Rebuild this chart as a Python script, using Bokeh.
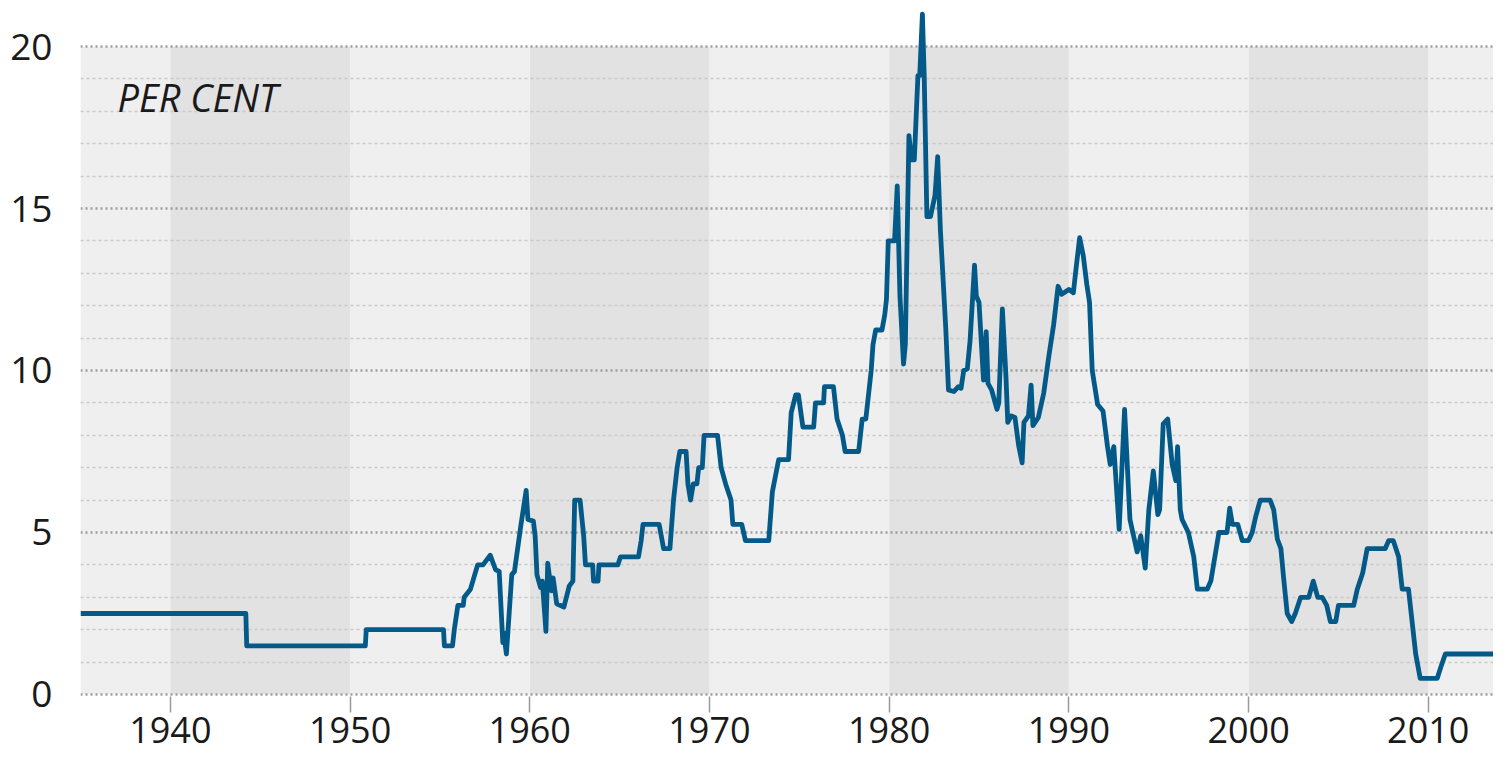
from bokeh.plotting import figure
from bokeh.models import FixedTicker, Label, Range1d
from bokeh.embed import file_html
from bokeh.resources import INLINE

# Bank rate, per cent
years = [
    1935.0, 1944.2, 1944.25, 1950.85, 1950.9, 1955.2, 1955.25, 1955.7, 1955.8, 1956.0,
    1956.3, 1956.35, 1956.7, 1957.1, 1957.4, 1957.8, 1958.1, 1958.3, 1958.5, 1958.55,
    1958.7, 1959.0, 1959.15, 1959.5, 1959.8, 1959.9, 1960.2, 1960.3, 1960.4, 1960.6,
    1960.7, 1960.9, 1961.0, 1961.2, 1961.3, 1961.5, 1961.9, 1962.2, 1962.4, 1962.5,
    1962.8, 1963.0, 1963.1, 1963.5, 1963.55, 1963.8, 1963.85, 1964.9, 1965.05, 1966.05,
    1966.2, 1966.3, 1967.2, 1967.45, 1967.8, 1968.0, 1968.2, 1968.35, 1968.7, 1968.8,
    1968.95, 1969.1, 1969.3, 1969.4, 1969.6, 1969.7, 1970.45, 1970.65, 1970.9, 1971.2,
    1971.3, 1971.8, 1972.0, 1973.3, 1973.5, 1973.85, 1974.4, 1974.55, 1974.8, 1974.95,
    1975.2, 1975.8, 1975.9, 1976.35, 1976.4, 1976.9, 1977.1, 1977.4, 1977.55, 1978.3,
    1978.5, 1978.7, 1978.8, 1979.0, 1979.1, 1979.25, 1979.6, 1979.75, 1979.85, 1979.95,
    1980.3, 1980.45, 1980.6, 1980.8, 1980.9, 1981.1, 1981.25, 1981.4, 1981.6, 1981.7,
    1981.85, 1981.95, 1982.1, 1982.3, 1982.55, 1982.7, 1982.85, 1983.15, 1983.3, 1983.6,
    1983.85, 1984.0, 1984.15, 1984.35, 1984.5, 1984.75, 1984.85, 1985.0, 1985.25, 1985.4,
    1985.5, 1985.7, 1986.0, 1986.1, 1986.3, 1986.5, 1986.6, 1986.8, 1987.0, 1987.2,
    1987.4, 1987.5, 1987.75, 1987.9, 1988.0, 1988.3, 1988.6, 1988.9, 1989.15, 1989.4,
    1989.6, 1990.0, 1990.25, 1990.4, 1990.6, 1990.8, 1991.0, 1991.15, 1991.3, 1991.6,
    1991.9, 1992.15, 1992.3, 1992.5, 1992.8, 1993.1, 1993.4, 1993.8, 1994.0, 1994.25,
    1994.45, 1994.7, 1994.95, 1995.05, 1995.25, 1995.5, 1995.75, 1995.95, 1996.05, 1996.2,
    1996.3, 1996.65, 1996.95, 1997.15, 1997.7, 1997.9, 1998.05, 1998.35, 1998.8, 1998.95,
    1999.1, 1999.4, 1999.65, 2000.0, 2000.2, 2000.4, 2000.65, 2001.2, 2001.4, 2001.6,
    2001.8, 2001.95, 2002.15, 2002.4, 2002.6, 2002.9, 2003.35, 2003.6, 2003.85, 2004.1,
    2004.35, 2004.55, 2004.85, 2005.0, 2005.85, 2006.05, 2006.35, 2006.6, 2007.6, 2007.8,
    2008.05, 2008.35, 2008.55, 2008.9, 2009.05, 2009.3, 2009.55, 2010.5, 2010.7, 2010.95,
    2014.5,
]
rate = [
    2.5, 2.5, 1.5, 1.5, 2.0, 2.0, 1.5, 1.5, 2.0, 2.75,
    2.75, 3.0, 3.25, 4.0, 4.0, 4.3, 3.85, 3.8, 1.6, 1.9,
    1.25, 3.7, 3.8, 5.2, 6.3, 5.4, 5.35, 4.9, 3.7, 3.3,
    3.5, 1.95, 4.05, 3.2, 3.6, 2.8, 2.7, 3.35, 3.5, 6.0,
    6.0, 4.9, 4.0, 4.0, 3.5, 3.5, 4.0, 4.0, 4.25, 4.25,
    4.75, 5.25, 5.25, 4.5, 4.5, 6.0, 7.0, 7.5, 7.5, 6.5,
    6.0, 6.5, 6.5, 7.0, 7.0, 8.0, 8.0, 7.0, 6.5, 6.0,
    5.25, 5.25, 4.75, 4.75, 6.25, 7.25, 7.25, 8.7, 9.25, 9.25,
    8.25, 8.25, 9.0, 9.0, 9.5, 9.5, 8.5, 8.0, 7.5, 7.5,
    8.5, 8.5, 9.0, 10.0, 10.8, 11.25, 11.25, 11.7, 12.2, 14.0,
    14.0, 15.7, 12.3, 10.2, 10.8, 17.25, 16.5, 16.5, 19.1, 19.1,
    21.0, 19.1, 14.75, 14.75, 15.4, 16.6, 14.35, 11.3, 9.4, 9.35,
    9.5, 9.45, 10.0, 10.05, 10.9, 13.25, 12.3, 12.1, 9.7, 11.2,
    9.6, 9.4, 8.8, 9.0, 11.9, 9.8, 8.4, 8.6, 8.55, 7.7,
    7.15, 8.4, 8.6, 9.55, 8.3, 8.55, 9.3, 10.5, 11.4, 12.6,
    12.35, 12.5, 12.4, 13.15, 14.1, 13.55, 12.65, 12.1, 10.0, 8.95,
    8.75, 7.65, 7.1, 7.65, 5.1, 8.8, 5.4, 4.4, 4.9, 3.9,
    5.7, 6.9, 5.55, 5.7, 8.35, 8.5, 7.1, 6.6, 7.65, 5.7,
    5.4, 5.0, 4.25, 3.25, 3.25, 3.5, 4.0, 5.0, 5.0, 5.75,
    5.25, 5.25, 4.75, 4.75, 5.0, 5.5, 6.0, 6.0, 5.7, 4.8,
    4.5, 3.6, 2.5, 2.25, 2.5, 3.0, 3.0, 3.5, 3.0, 3.0,
    2.75, 2.25, 2.25, 2.75, 2.75, 3.25, 3.75, 4.5, 4.5, 4.75,
    4.75, 4.25, 3.25, 3.25, 2.5, 1.25, 0.5, 0.5, 0.85, 1.25,
    1.25,
]

# decade shading
dark_start = [1940, 1960, 1980, 2000]
dark_end = [1950, 1970, 1990, 2010]
light_start = [1935, 1950, 1970, 1990, 2010]
light_end = [1940, 1960, 1980, 2000, 2020]

x_ticks = [1940, 1950, 1960, 1970, 1980, 1990, 2000, 2010]
y_ticks = [0, 5, 10, 15, 20]
y_minor = [1, 2, 3, 4, 6, 7, 8, 9, 11, 12, 13, 14, 16, 17, 18, 19]

FONT = "Open Sans"

p = figure(
    frame_width=1413, frame_height=696,
    x_range=Range1d(1935, 2013.63), y_range=Range1d(-0.062, 21.42),
    output_backend="svg", toolbar_location=None,
    min_border_left=80, min_border_right=0, min_border_top=0, min_border_bottom=62,
)
p.background_fill_color = "white"
p.border_fill_color = "white"
p.outline_line_color = None

band_top = max(y_ticks)
p.quad(left=light_start, right=light_end, bottom=0, top=band_top,
       fill_color="#efefef", line_color=None, level="image")
p.quad(left=dark_start, right=dark_end, bottom=0, top=band_top,
       fill_color="#e2e2e2", line_color=None, level="image")

p.line(years, rate, line_color="#035a88", line_width=4.8, line_join="round")

# grids
p.xgrid.visible = False
p.ygrid.ticker = FixedTicker(ticks=y_ticks, minor_ticks=y_minor)
p.ygrid.grid_line_color = "#9d9d9d"
p.ygrid.grid_line_width = 2.5
p.ygrid.grid_line_dash = "2 3"
p.ygrid.minor_grid_line_color = "#c9c9c9"
p.ygrid.minor_grid_line_width = 1.5
p.ygrid.minor_grid_line_dash = "3 3"

# x axis
xa = p.xaxis[0]
xa.ticker = FixedTicker(ticks=x_ticks)
xa.axis_line_color = None
xa.major_tick_line_color = "#9a9a9a"
xa.major_tick_line_width = 1.5
xa.major_tick_in = 0
xa.major_tick_out = 16
xa.minor_tick_line_color = None
xa.major_label_standoff = 4
xa.major_label_text_font = FONT
xa.major_label_text_font_size = "36px"
xa.major_label_text_color = "#1a1a1a"

# y axis
ya = p.yaxis[0]
ya.ticker = FixedTicker(ticks=y_ticks)
ya.axis_line_color = None
ya.major_tick_line_color = None
ya.minor_tick_line_color = None
ya.major_label_standoff = 22
ya.major_label_text_font = FONT
ya.major_label_text_font_size = "37px"
ya.major_label_text_color = "#1a1a1a"

p.add_layout(Label(x=1937.06, y=18.45, text="PER CENT", text_font=FONT,
                   text_font_size="38px", text_font_style="italic",
                   text_color="#1a1a1a", text_baseline="middle", text_align="left"))

open("out.html", "w").write(file_html(p, INLINE))
